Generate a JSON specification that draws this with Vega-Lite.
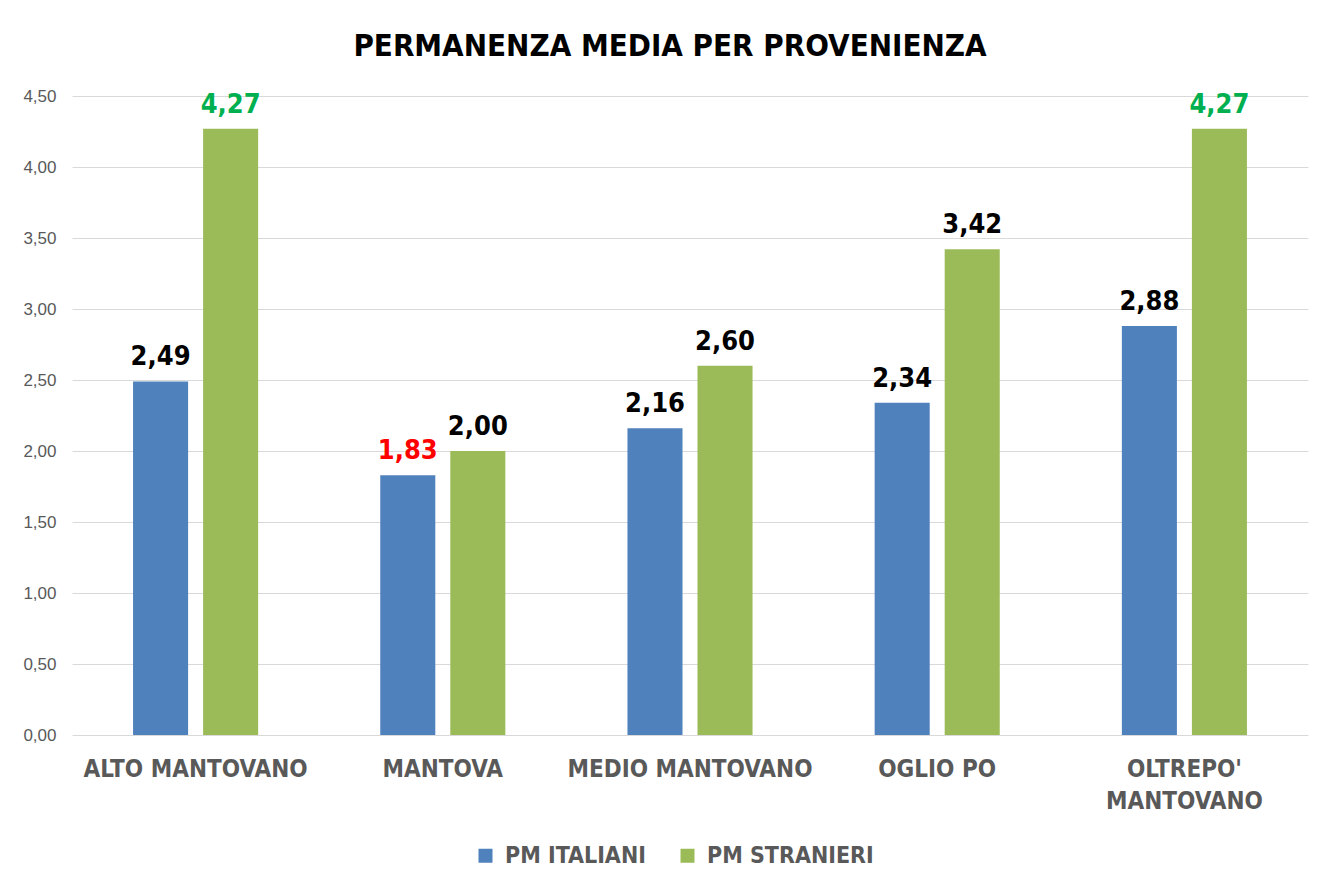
{
  "$schema": "https://vega.github.io/schema/vega-lite/v6.json",
  "width": 1236,
  "height": 639,
  "autosize": {"type": "none"},
  "padding": {"left": 72, "top": 96, "right": 12, "bottom": 150},
  "background": "white",
  "config": {
    "locale": {"number": {"decimal": ",", "thousands": ".", "grouping": [3], "currency": ["€", ""]}},
    "view": {"stroke": null}
  },
  "title": {
    "text": "PERMANENZA MEDIA PER PROVENIENZA",
    "font": "'DejaVu Sans Condensed', 'Liberation Sans', sans-serif",
    "fontSize": 31,
    "fontWeight": "bold",
    "color": "#000000",
    "anchor": "middle",
    "dx": -20,
    "offset": 24
  },
  "data": {
    "values": [
      {"zona": "ALTO MANTOVANO", "serie": "PM ITALIANI", "valore": 2.49},
      {"zona": "ALTO MANTOVANO", "serie": "PM STRANIERI", "valore": 4.27},
      {"zona": "MANTOVA", "serie": "PM ITALIANI", "valore": 1.83},
      {"zona": "MANTOVA", "serie": "PM STRANIERI", "valore": 2.00},
      {"zona": "MEDIO MANTOVANO", "serie": "PM ITALIANI", "valore": 2.16},
      {"zona": "MEDIO MANTOVANO", "serie": "PM STRANIERI", "valore": 2.60},
      {"zona": "OGLIO PO", "serie": "PM ITALIANI", "valore": 2.34},
      {"zona": "OGLIO PO", "serie": "PM STRANIERI", "valore": 3.42},
      {"zona": "OLTREPO' MANTOVANO", "serie": "PM ITALIANI", "valore": 2.88},
      {"zona": "OLTREPO' MANTOVANO", "serie": "PM STRANIERI", "valore": 4.27}
    ]
  },
  "encoding": {
    "x": {
      "field": "zona",
      "type": "nominal",
      "sort": null,
      "title": null,
      "scale": {"paddingInner": 0.494, "paddingOuter": 0.247},
      "axis": {
        "labelAngle": 0,
        "domain": false,
        "ticks": false,
        "labelFont": "'DejaVu Sans Condensed', 'Liberation Sans', sans-serif",
        "labelFontSize": 24,
        "labelFontWeight": "bold",
        "labelColor": "#595959",
        "labelPadding": 22,
        "labelBaseline": "top",
        "labelLineHeight": 32,
        "labelLimit": 0,
        "labelExpr": "indexof(datum.label, 'OLTREPO') == 0 ? split(datum.label, ' ') : datum.label"
      }
    },
    "xOffset": {
      "field": "serie",
      "type": "nominal",
      "scale": {"paddingInner": 0.214, "paddingOuter": 0}
    },
    "y": {
      "field": "valore",
      "type": "quantitative",
      "title": null,
      "scale": {"domain": [0, 4.5], "nice": false},
      "axis": {
        "values": [0, 0.5, 1, 1.5, 2, 2.5, 3, 3.5, 4, 4.5],
        "format": ".2f",
        "domain": false,
        "ticks": false,
        "gridColor": "#d9d9d9",
        "gridWidth": 1,
        "labelFont": "'Liberation Sans', sans-serif",
        "labelFontSize": 17,
        "labelColor": "#595959",
        "labelPadding": 16
      }
    }
  },
  "layer": [
    {
      "mark": {"type": "bar"},
      "encoding": {
        "color": {
          "field": "serie",
          "type": "nominal",
          "scale": {"domain": ["PM ITALIANI", "PM STRANIERI"], "range": ["#4f81bd", "#9bbb59"]},
          "legend": {
            "title": null,
            "orient": "none",
            "direction": "horizontal",
            "legendX": 402,
            "legendY": 748,
            "symbolType": "square",
            "symbolSize": 196,
            "symbolStrokeWidth": 0,
            "labelFont": "'DejaVu Sans Condensed', 'Liberation Sans', sans-serif",
            "labelFontSize": 23,
            "labelFontWeight": "bold",
            "labelColor": "#595959",
            "labelOffset": 8,
            "labelLimit": 0,
            "columnPadding": 30
          }
        }
      }
    },
    {
      "mark": {
        "type": "text",
        "baseline": "bottom",
        "dy": -10,
        "font": "'DejaVu Sans Condensed', 'Liberation Sans', sans-serif",
        "fontSize": 27,
        "fontWeight": "bold"
      },
      "encoding": {
        "text": {"field": "valore", "type": "quantitative", "format": ".2f"},
        "color": {
          "condition": [
            {"test": "datum.valore < 1.9", "value": "#ff0000"},
            {"test": "datum.valore > 4.2", "value": "#00b050"}
          ],
          "value": "#000000"
        }
      }
    }
  ]
}
